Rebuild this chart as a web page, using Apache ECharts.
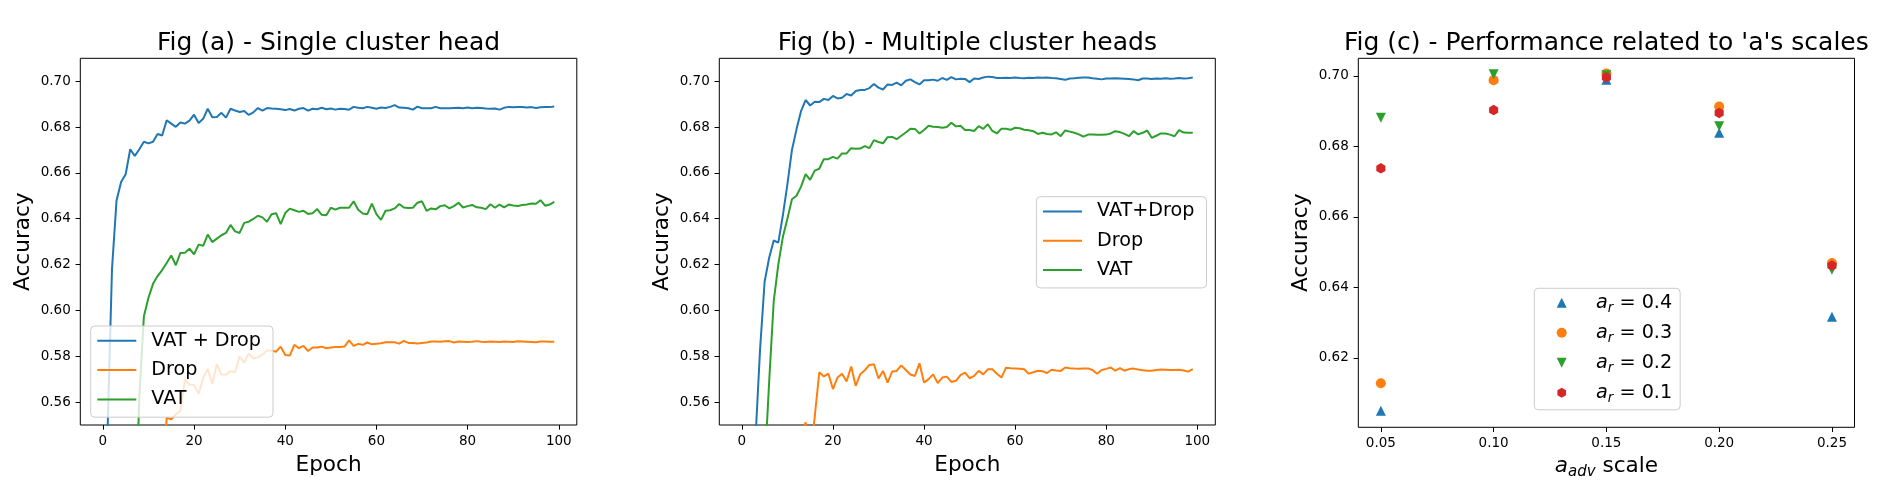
<!DOCTYPE html>
<html>
<head>
<meta charset="utf-8">
<script src="https://cdn.jsdelivr.net/npm/echarts@6/dist/echarts.min.js"></script>
<style>
html,body{margin:0;padding:0;background:#fff;}
#chart{width:1882px;height:481px;}
</style>
</head>
<body>
<div id="chart"></div>
<script>
// ---------- Data ----------
const titles = ["Fig (a) - Single cluster head", "Fig (b) - Multiple cluster heads", "Fig (c) - Performance related to 'a's scales"];
const epochTicks = [0, 20, 40, 60, 80, 100];
const accTicks = [0.56, 0.58, 0.60, 0.62, 0.64, 0.66, 0.68, 0.70];
const accTicksC = [0.62, 0.64, 0.66, 0.68, 0.70];
const scaleTicks = [0.05, 0.10, 0.15, 0.20, 0.25];

const legendA = ["VAT + Drop", "Drop", "VAT"];
const legendB = ["VAT+Drop", "Drop", "VAT"];

// Fig (a) accuracy per epoch (0..99); null = below the visible range
const aVatDrop = [null,0.545,0.618,0.648,0.656,0.6594,0.6703,0.6674,0.6703,0.6736,
0.6729,0.6736,0.6770,0.6763,0.6830,0.6815,0.6801,0.6820,0.6815,0.6828,
0.6854,0.6818,0.6836,0.6880,0.6843,0.6844,0.6862,0.6841,0.6880,0.6872,
0.6866,0.6870,0.6853,0.6864,0.6883,0.6872,0.6883,0.6881,0.6880,0.6878,
0.6874,0.6879,0.6872,0.6880,0.6883,0.6872,0.6880,0.6878,0.6884,0.6878,
0.6881,0.6876,0.6880,0.6879,0.6876,0.6888,0.6884,0.6882,0.6888,0.6884,
0.6880,0.6885,0.6883,0.6888,0.6896,0.6885,0.6884,0.6882,0.6876,0.6889,
0.6882,0.6882,0.6882,0.6888,0.6882,0.6882,0.6882,0.6883,0.6884,0.6882,
0.6885,0.6882,0.6884,0.6883,0.6881,0.6880,0.6881,0.6876,0.6884,0.6888,
0.6886,0.6887,0.6887,0.6885,0.6887,0.6883,0.6886,0.6887,0.6887,0.6890];
const aDrop = [null,null,null,null,null,null,null,null,null,null,
null,null,null,0.520,0.5532,0.5525,0.5546,0.5561,0.5698,0.5676,
0.5676,0.5636,0.5705,0.5745,0.5680,0.5765,0.5720,0.5720,0.5735,0.5730,
0.5800,0.5772,0.5812,0.5790,0.5795,0.5808,0.5825,0.5825,0.5820,0.5842,
0.5805,0.5803,0.5850,0.5835,0.5845,0.5823,0.5838,0.5838,0.5842,0.5835,
0.5838,0.5840,0.5840,0.5842,0.5869,0.5845,0.5854,0.5850,0.5860,0.5852,
0.5855,0.5857,0.5861,0.5861,0.5861,0.5855,0.5867,0.5858,0.5858,0.5856,
0.5858,0.5860,0.5864,0.5864,0.5863,0.5865,0.5866,0.5860,0.5864,0.5863,
0.5862,0.5863,0.5866,0.5863,0.5862,0.5864,0.5863,0.5862,0.5864,0.5863,
0.5862,0.5865,0.5864,0.5863,0.5862,0.5861,0.5864,0.5864,0.5863,0.5863];
const aVat = [null,null,null,null,null,null,null,0.500,0.5625,0.5975,
0.6055,0.6116,0.6150,0.6176,0.6207,0.6240,0.6197,0.6251,0.6252,0.6269,
0.6245,0.6287,0.6282,0.6331,0.6298,0.6313,0.6328,0.6338,0.6373,0.6345,
0.6338,0.6382,0.6387,0.6399,0.6413,0.6406,0.6387,0.6420,0.6424,0.6376,
0.6425,0.6444,0.6437,0.6430,0.6435,0.6421,0.6424,0.6442,0.6417,0.6415,
0.6448,0.6440,0.6448,0.6448,0.6448,0.6476,0.6439,0.6423,0.6420,0.6466,
0.6420,0.6395,0.6435,0.6437,0.6445,0.6464,0.6449,0.6447,0.6448,0.6470,
0.6476,0.6434,0.6445,0.6441,0.6455,0.6459,0.6445,0.6455,0.6470,0.6449,
0.6455,0.6460,0.6450,0.6448,0.6442,0.6463,0.6448,0.6462,0.6450,0.6462,
0.6458,0.6456,0.6460,0.6462,0.6466,0.6465,0.6481,0.6457,0.6462,0.6474];

// Fig (b) accuracy per epoch (0..99)
const bVatDrop = [null,null,null,0.5442,0.583,0.6125,0.623,0.6305,0.6296,0.6414,
0.655,0.670,0.679,0.687,0.6918,0.6894,0.6910,0.6909,0.6923,0.6918,
0.6936,0.6925,0.6928,0.6944,0.6938,0.6957,0.6962,0.6962,0.6970,0.6988,
0.6972,0.6964,0.6986,0.6984,0.6994,0.6982,0.7002,0.7008,0.6996,0.6986,
0.7004,0.7004,0.7007,0.7002,0.7014,0.7006,0.7018,0.7008,0.7011,0.7010,
0.6996,0.7012,0.7010,0.7016,0.7020,0.7018,0.7014,0.7014,0.7015,0.7014,
0.7016,0.7014,0.7013,0.7015,0.7014,0.7016,0.7015,0.7016,0.7014,0.7013,
0.7010,0.7006,0.7012,0.7013,0.7015,0.7016,0.7016,0.7013,0.7011,0.7008,
0.7012,0.7012,0.7013,0.7012,0.7011,0.7010,0.7008,0.7004,0.7012,0.7012,
0.7010,0.7012,0.7011,0.7013,0.7011,0.7012,0.7014,0.7012,0.7013,0.7016];
const bDrop = [null,null,null,null,null,null,null,null,null,null,
null,null,null,0.545,0.5512,0.535,0.5535,0.5730,0.5712,0.5724,
0.5657,0.5707,0.5724,0.5690,0.5755,0.5671,0.5721,0.5739,0.5762,0.5765,
0.5703,0.5736,0.5685,0.5733,0.5736,0.5760,0.5740,0.5720,0.5714,0.5769,
0.5685,0.5700,0.5721,0.5683,0.5707,0.5711,0.5688,0.5693,0.5718,0.5729,
0.5704,0.5714,0.5736,0.5721,0.5743,0.5743,0.5724,0.5707,0.5750,0.5748,
0.5747,0.5745,0.5743,0.5724,0.5730,0.5737,0.5735,0.5727,0.5741,0.5738,
0.5736,0.5751,0.5748,0.5746,0.5745,0.5746,0.5747,0.5740,0.5724,0.5740,
0.5745,0.5751,0.5737,0.5748,0.5737,0.5744,0.5746,0.5742,0.5739,0.5737,
0.5737,0.5740,0.5742,0.5741,0.5740,0.5740,0.5741,0.5738,0.5733,0.5744];
const bVat = [null,null,null,null,null,0.531,0.569,0.604,0.620,0.632,
0.640,0.6485,0.650,0.654,0.6595,0.6570,0.6610,0.6618,0.6660,0.6660,
0.6670,0.6662,0.6685,0.6685,0.6708,0.6705,0.6706,0.6717,0.6708,0.6743,
0.6735,0.6729,0.6756,0.6757,0.6747,0.6762,0.6776,0.6793,0.6792,0.6772,
0.6787,0.6806,0.6801,0.6800,0.6797,0.6800,0.6819,0.6803,0.6806,0.6787,
0.6787,0.6783,0.6804,0.6792,0.6812,0.6783,0.6772,0.6793,0.6793,0.6788,
0.6797,0.6795,0.6788,0.6786,0.6782,0.6770,0.6775,0.6770,0.6768,0.6777,
0.6760,0.6785,0.6780,0.6775,0.6768,0.6758,0.6767,0.6767,0.6766,0.6766,
0.6767,0.6772,0.6782,0.6778,0.6770,0.6760,0.6782,0.6768,0.6775,0.6785,
0.6753,0.6762,0.6772,0.6772,0.6767,0.6760,0.6787,0.6776,0.6775,0.6775];

// Fig (c) accuracy per a_adv scale, one array per a_r
const advScales = [0.05, 0.10, 0.15, 0.20, 0.25];
const arLabels = ["0.4", "0.3", "0.2", "0.1"];
const ar04 = [0.6050, 0.6995, 0.6989, 0.6839, 0.6317];
const ar03 = [0.6128, 0.6988, 0.7007, 0.6913, 0.6469];
const ar02 = [0.6881, 0.7005, 0.7002, 0.6857, 0.6450];
const ar01 = [0.6738, 0.6903, 0.6996, 0.6895, 0.6462];

// ---------- Styling ----------
const FONT = 'DejaVu Sans';
const C = ['#1f77b4', '#ff7f0e', '#2ca02c', '#d62728'];
const TRI_UP = 'path://M5,0 L10,10 L0,10 Z';
const TRI_DOWN = 'path://M0,0 L10,0 L5,10 Z';
const HEX = 'path://M4.33,0 L8.66,2.5 L8.66,7.5 L4.33,10 L0,7.5 L0,2.5 Z';

const GT = 58.3, GH = 369;
const grids = [
  {left: 80.3, top: GT, width: 496.5, height: GH},
  {left: 719.3, top: GT, width: 496.0, height: GH},
  {left: 1358.3, top: GT, width: 496.2, height: GH}
].map(g => Object.assign(g, {show: true, borderColor: '#000', borderWidth: 1, backgroundColor: 'transparent', containLabel: false}));

const tickStyle = {show: true, inside: false, length: 4.7, lineStyle: {color: '#000', width: 1}};
const labelStyle = {color: '#000', fontFamily: FONT, fontSize: 13.5};
const NAME_FS = 21.6;
const hiddenLine = {show: false, onZero: false};

function xEpoch(gi) {
  return {
    type: 'value', gridIndex: gi, min: -4.95, max: 103.95,
    axisLine: hiddenLine, splitLine: {show: false},
    axisTick: Object.assign({customValues: epochTicks}, tickStyle),
    axisLabel: Object.assign({customValues: epochTicks, margin: 9, formatter: v => String(Math.round(v))}, labelStyle),
    name: 'Epoch', nameLocation: 'middle', nameGap: 29,
    nameTextStyle: {fontFamily: FONT, fontSize: NAME_FS, color: '#000'}
  };
}
function yAcc(gi, min, max, ticks) {
  return {
    type: 'value', gridIndex: gi, min: min, max: max,
    axisLine: hiddenLine, splitLine: {show: false},
    axisTick: Object.assign({customValues: ticks}, tickStyle),
    axisLabel: Object.assign({customValues: ticks, margin: 9.5, formatter: v => v.toFixed(2)}, labelStyle),
    name: 'Accuracy', nameLocation: 'middle', nameGap: 45.5,
    nameTextStyle: {fontFamily: FONT, fontSize: NAME_FS, color: '#000'}
  };
}

function lineSeries(name, vals, color, gi) {
  return {
    type: 'line', name: name, xAxisIndex: gi, yAxisIndex: gi,
    data: vals.map((v, i) => [i, v]).filter(p => p[1] !== null),
    showSymbol: false, symbol: 'none', clip: true,
    lineStyle: {color: color, width: 2}, itemStyle: {color: color},
    emphasis: {disabled: true}, silent: true
  };
}
function scatterSeries(name, vals, color, symbol, size) {
  return {
    type: 'scatter', name: name, xAxisIndex: 2, yAxisIndex: 2,
    data: vals.map((v, i) => [advScales[i], v]),
    symbol: symbol, symbolSize: size, symbolKeepAspect: true,
    itemStyle: {color: color, opacity: 1}, emphasis: {disabled: true}, silent: true
  };
}

const arNames = arLabels.map(l => 'a_r = ' + l);

const legendCommon = {
  orient: 'vertical', selectedMode: false,
  backgroundColor: 'rgba(255,255,255,0.8)', borderColor: '#cccccc', borderWidth: 1, borderRadius: 4
};
const LEG_FS = 19.2;
const SP = '\u00a0\u00a0\u00a0\u00a0';

const option = {
  animation: false,
  backgroundColor: '#fff',
  title: titles.map((t, i) => ({
    text: t, left: grids[i].left + grids[i].width / 2, top: 30.5, textAlign: 'center', padding: 0,
    textStyle: {fontFamily: FONT, fontSize: 25, fontWeight: 'normal', color: '#000'}
  })),
  grid: grids,
  xAxis: [xEpoch(0), xEpoch(1), {
    type: 'value', gridIndex: 2, min: 0.04, max: 0.26,
    axisLine: hiddenLine, splitLine: {show: false},
    axisTick: Object.assign({customValues: scaleTicks}, tickStyle),
    axisLabel: Object.assign({customValues: scaleTicks, margin: 9, formatter: v => v.toFixed(2)}, labelStyle)
  }],
  yAxis: [yAcc(0, 0.55, 0.71, accTicks), yAcc(1, 0.55, 0.71, accTicks), yAcc(2, 0.6003, 0.7050, accTicksC)],
  graphic: [{
    type: 'text', silent: true,
    x: grids[2].left + grids[2].width / 2, y: 466,
    style: {
      text: '{i|a}{s|adv}{t| scale}', align: 'center', verticalAlign: 'middle',
      fill: '#000', font: NAME_FS + 'px "DejaVu Sans"',
      rich: {
        i: {fontFamily: FONT, fontStyle: 'italic', fontSize: NAME_FS, lineHeight: 28, fill: '#000'},
        s: {fontFamily: FONT, fontStyle: 'italic', fontSize: 15, lineHeight: 28, verticalAlign: 'bottom', fill: '#000'},
        t: {fontFamily: FONT, fontSize: NAME_FS, lineHeight: 28, fill: '#000'}
      }
    }
  }],
  legend: [
    Object.assign({}, legendCommon, {
      left: 90.7, top: 326, data: legendA, icon: 'rect', itemWidth: 39, itemHeight: 2, itemGap: 10.3,
      padding: [5.3, 12, 8.3, 6.6],
      textStyle: {fontFamily: FONT, fontSize: LEG_FS, color: '#000', lineHeight: 19, padding: [0, 0, 0, 10]}
    }),
    Object.assign({}, legendCommon, {
      left: 1036.4, top: 196.7, data: legendB, icon: 'rect', itemWidth: 39, itemHeight: 2, itemGap: 10.3,
      padding: [5.3, 12, 8.3, 6.6],
      textStyle: {fontFamily: FONT, fontSize: LEG_FS, color: '#000', lineHeight: 19, padding: [0, 0, 0, 10]}
    }),
    Object.assign({}, legendCommon, {
      left: 1534.3, top: 288.3, itemWidth: 10, itemHeight: 10, itemGap: 8.5,
      padding: [5, 8, 5, 22.4],
      data: [
        {name: arNames[0], icon: TRI_UP},
        {name: arNames[1], icon: 'circle'},
        {name: arNames[2], icon: TRI_DOWN},
        {name: arNames[3], icon: HEX}
      ],
      formatter: function (name) { return '{t|' + SP + '}{i|a}{s|r}{t| = ' + name.split('= ')[1] + '}'; },
      textStyle: {fontFamily: FONT, fontSize: LEG_FS, color: '#000',
        rich: {
          i: {fontFamily: FONT, fontStyle: 'italic', fontSize: LEG_FS, lineHeight: 24, color: '#000'},
          s: {fontFamily: FONT, fontStyle: 'italic', fontSize: 13.4, lineHeight: 24, verticalAlign: 'bottom', color: '#000'},
          t: {fontFamily: FONT, fontSize: LEG_FS, lineHeight: 24, color: '#000'}
        }}
    })
  ],
  series: [
    lineSeries(legendA[0], aVatDrop, C[0], 0),
    lineSeries(legendA[1], aDrop, C[1], 0),
    lineSeries(legendA[2], aVat, C[2], 0),
    lineSeries(legendB[0], bVatDrop, C[0], 1),
    lineSeries(legendB[1], bDrop, C[1], 1),
    lineSeries(legendB[2], bVat, C[2], 1),
    scatterSeries(arNames[0], ar04, C[0], TRI_UP, 10),
    scatterSeries(arNames[1], ar03, C[1], 'circle', 10),
    scatterSeries(arNames[2], ar02, C[2], TRI_DOWN, 10),
    scatterSeries(arNames[3], ar01, C[3], HEX, 10.5)
  ]
};

const chart = echarts.init(document.getElementById('chart'), null, {renderer: 'canvas'});
chart.setOption(option);
</script>
</body>
</html>
